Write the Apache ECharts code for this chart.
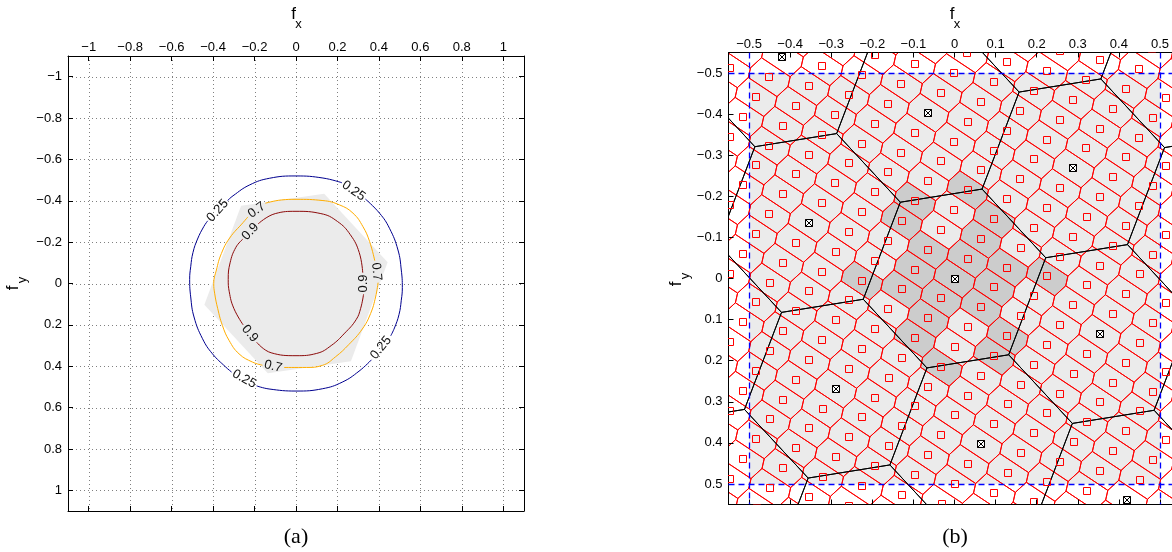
<!DOCTYPE html>
<html>
<head>
<meta charset="utf-8">
<script src="https://cdn.jsdelivr.net/npm/echarts@6/dist/echarts.min.js"></script>
<style>
html, body { margin: 0; padding: 0; background: #fff; }
#chart { width: 1172px; height: 552px; }
</style>
</head>
<body>
<div id="chart"></div>
<script>
// ---------- panel (a): frequency response contours ----------
const ticksA = [-1, -0.8, -0.6, -0.4, -0.2, 0, 0.2, 0.4, 0.6, 0.8, 1];

// pass region (hexagon) in (fx, fy)
const passRegion = [[-0.265, -0.376], [0.136, -0.434], [0.442, -0.103], [0.265, 0.376], [-0.136, 0.434], [-0.442, 0.103]];

// contour levels, traced as loops; null marks the gap left for an inline label
const contour025 = [
  [-0.33, -0.401], [-0.304, -0.424], [-0.223, -0.477], [-0.127, -0.509], [0, -0.52], [0.13, -0.51], [0.222, -0.487], null,
  [0.335, -0.408], [0.403, -0.34], [0.451, -0.267], [0.492, -0.162], [0.508, -0.065], [0.513, 0.02], [0.508, 0.081],
  [0.497, 0.15], [0.475, 0.215], [0.457, 0.253], null,
  [0.364, 0.369], [0.304, 0.424], [0.223, 0.477], [0.127, 0.509], [0, 0.52], [-0.13, 0.51], [-0.19, 0.495], null,
  [-0.311, 0.428], [-0.339, 0.404], [-0.403, 0.34], [-0.451, 0.267], [-0.492, 0.162], [-0.508, 0.065], [-0.513, -0.02],
  [-0.508, -0.081], [-0.497, -0.15], [-0.475, -0.215], [-0.445, -0.275], [-0.426, -0.303]
];
const contour07 = [
  [-0.148, -0.388], [-0.07, -0.404], [0, -0.407], [0.13, -0.401], [0.21, -0.38], [0.275, -0.34], [0.323, -0.275],
  [0.355, -0.203], [0.38, -0.11], null,
  [0.396, -0.004], [0.384, 0.065], [0.36, 0.145], [0.32, 0.22], [0.255, 0.295], [0.19, 0.355], [0.127, 0.396],
  [0.05, 0.406], [-0.058, 0.406], null,
  [-0.162, 0.395], [-0.21, 0.38], [-0.275, 0.34], [-0.323, 0.275], [-0.355, 0.203], [-0.378, 0.12], [-0.392, 0.05],
  [-0.397, 0], [-0.384, -0.065], [-0.36, -0.145], [-0.32, -0.22], [-0.255, -0.295], [-0.232, -0.322]
];
const contour09 = [
  [-0.183, -0.288], [-0.1, -0.338], [0, -0.349], [0.12, -0.338], [0.2, -0.3], [0.262, -0.236], [0.305, -0.15],
  [0.322, -0.052], null,
  [0.326, 0.052], [0.312, 0.12], [0.29, 0.175], [0.235, 0.24], [0.17, 0.3], [0.1, 0.338], [0, 0.349],
  [-0.12, 0.335], [-0.19, 0.284], null,
  [-0.255, 0.2], [-0.3, 0.12], [-0.322, 0.04], [-0.327, -0.02], [-0.318, -0.1], [-0.29, -0.175], [-0.257, -0.214]
];
const contourColors = ['#00008f', '#ffad00', '#8c0a0a'];

// inline contour labels: fx, fy, text, angle (deg)
const contourLabels = [
  [-0.378, -0.352, '0.25', 48], [0.278, -0.448, '0.25', -35], [0.41, 0.311, '0.25', 51], [-0.25, 0.462, '0.25', -29],
  [-0.19, -0.355, '0.7', 36], [0.388, -0.057, '0.7', -84], [-0.11, 0.401, '0.7', -14],
  [-0.22, -0.251, '0.9', 47], [0.324, 0.0, '0.9', 90], [-0.223, 0.242, '0.9', -50]
];

// ---------- panel (b): lattice tessellation ----------
const ticksB = [-0.5, -0.4, -0.3, -0.2, -0.1, 0, 0.1, 0.2, 0.3, 0.4, 0.5];
const fineBasis = [[0.0965, 0.0217], [-0.0321, 0.0483]];   // fine lattice generators
const coarseGen = [[4, 1], [3, 7]];                          // coarse generators in fine-lattice coordinates
const innerCells = [
  [-2, -3], [-2, -2], [-1, -4], [0, -3], [-1, -1], [-1, 0], [-1, 1], [0, -1], [0, 0], [0, -2], [1, -1],
  [1, 0], [1, 1], [0, 1], [0, 2], [0, 3], [2, 2], [2, 3], [-2, 1], [2, -1], [1, 4]
];
const baseBand = [-0.5, 0.5];

// ---------- geometry helpers ----------
const comb = (b, i, j) => [i * b[0][0] + j * b[1][0], i * b[0][1] + j * b[1][1]];

function clipHalf(poly, n, c) {
  const out = [];
  for (let k = 0; k < poly.length; k++) {
    const p = poly[k], q = poly[(k + 1) % poly.length];
    const dp = p[0] * n[0] + p[1] * n[1] - c, dq = q[0] * n[0] + q[1] * n[1] - c;
    if (dp <= 0) out.push(p);
    if ((dp < 0 && dq > 0) || (dp > 0 && dq < 0)) {
      const t = dp / (dp - dq);
      out.push([p[0] + t * (q[0] - p[0]), p[1] + t * (q[1] - p[1])]);
    }
  }
  return out;
}
function voronoiCell(basis) {
  let poly = [[-2, -2], [2, -2], [2, 2], [-2, 2]];
  for (let i = -2; i <= 2; i++) for (let j = -2; j <= 2; j++) {
    if (!i && !j) continue;
    const r = comb(basis, i, j);
    poly = clipHalf(poly, r, (r[0] * r[0] + r[1] * r[1]) / 2);
  }
  return poly;
}
function latticePoints(basis, n, lim) {
  const pts = [];
  for (let i = -n; i <= n; i++) for (let j = -n; j <= n; j++) {
    const p = comb(basis, i, j);
    if (Math.abs(p[0]) < lim && Math.abs(p[1]) < lim) pts.push(p);
  }
  return pts;
}

const coarseBasis = [comb(fineBasis, coarseGen[0][0], coarseGen[0][1]), comb(fineBasis, coarseGen[1][0], coarseGen[1][1])];
const fineCell = voronoiCell(fineBasis);
const coarseCell = voronoiCell(coarseBasis);
const finePts = latticePoints(fineBasis, 22, 0.72);
const coarsePts = latticePoints(coarseBasis, 5, 1.0);
const innerPts = innerCells.map(c => comb(fineBasis, c[0], c[1]));

// ---------- styling ----------
const FONT = "'Liberation Sans', Arial, Helvetica, sans-serif";
const fmt = v => (v < 0 ? '\u2212' : '') + String(Math.abs(v));
const px = v => Math.round(v) + 0.5;
const copy = s => Object.assign({}, s);

function axisDef(grid, pos, min, max, ticks, labels, inverse, isX, showLine) {
  return {
    gridIndex: grid, type: 'value', position: pos, min, max, inverse: !!inverse, z: 10,
    axisLine: { show: showLine !== false, onZero: false, lineStyle: { color: '#000', width: 1 } },
    axisTick: { show: showLine !== false, inside: true, length: 5, customValues: ticks, lineStyle: { color: '#000', width: 1 } },
    axisLabel: {
      show: labels, customValues: ticks, formatter: fmt, margin: isX ? 2 : 6,
      color: '#000', fontSize: 13, fontFamily: FONT
    },
    splitLine: { show: false }
  };
}

function cellSeries(points, cell, style, xi, yi, z) {
  return {
    type: 'custom', xAxisIndex: xi, yAxisIndex: yi, clip: true, silent: true, z,
    data: points,
    renderItem(params, api) {
      const cx = api.value(0), cy = api.value(1);
      return { type: 'polygon', shape: { points: cell.map(v => api.coord([cx + v[0], cy + v[1]])) }, style: copy(style) };
    }
  };
}
// full-span reference lines: one data item per value, drawn both vertically (x = v) and horizontally (y = v)
function fullLines(values, style, xi, yi, z) {
  return {
    type: 'custom', xAxisIndex: xi, yAxisIndex: yi, clip: true, silent: true, z,
    data: values.map(v => [v, v]),
    renderItem(params, api) {
      const cs = params.coordSys;
      const p = api.coord([api.value(0), api.value(1)]);
      return {
        type: 'group', children: [
          { type: 'line', shape: { x1: px(p[0]), y1: cs.y, x2: px(p[0]), y2: cs.y + cs.height }, style: copy(style) },
          { type: 'line', shape: { x1: cs.x, y1: px(p[1]), x2: cs.x + cs.width, y2: px(p[1]) }, style: copy(style) }
        ]
      };
    }
  };
}

const series = [];

// panel (a)
series.push(fullLines(ticksA, { stroke: '#808080', lineWidth: 1, lineDash: [1, 3] }, 0, 0, 1));
series.push({
  type: 'custom', xAxisIndex: 0, yAxisIndex: 0, clip: true, silent: true, z: 2,
  data: [[0, 0]],
  renderItem(params, api) {
    return { type: 'polygon', shape: { points: passRegion.map(p => api.coord(p)) }, style: { fill: '#ebebeb' } };
  }
});
[contour025, contour07, contour09].forEach((c, k) => {
  series.push({
    type: 'line', xAxisIndex: 0, yAxisIndex: 0, data: c, showSymbol: false, symbol: 'none',
    smooth: 0.45, connectNulls: false, silent: true, z: 3,
    lineStyle: { color: contourColors[k], width: 1 }
  });
});
series.push({
  type: 'custom', xAxisIndex: 0, yAxisIndex: 0, clip: true, silent: true, z: 4,
  data: contourLabels.map(l => [l[0], l[1]]),
  renderItem(params, api) {
    const l = contourLabels[params.dataIndex];
    const p = api.coord([l[0], l[1]]);
    return {
      type: 'text', x: p[0], y: p[1], rotation: l[3] * Math.PI / 180,
      style: { text: l[2], fill: '#111', font: '13px ' + FONT, align: 'center', verticalAlign: 'middle' }
    };
  }
});

// panel (b)
series.push({
  type: 'custom', xAxisIndex: 2, yAxisIndex: 2, clip: true, silent: true, z: 1,
  data: [[baseBand[0], baseBand[0]]],
  renderItem(params, api) {
    const a = api.coord([baseBand[0], baseBand[0]]), b = api.coord([baseBand[1], baseBand[1]]);
    return { type: 'rect', shape: { x: a[0], y: a[1], width: b[0] - a[0], height: b[1] - a[1] }, style: { fill: '#ebebeb' } };
  }
});
series.push(cellSeries(innerPts, fineCell, { fill: '#cccccc' }, 2, 2, 2));
series.push(cellSeries(finePts, fineCell, { fill: 'none', stroke: '#ff0000', lineWidth: 1 }, 2, 2, 3));
series.push(cellSeries(coarsePts, coarseCell, { fill: 'none', stroke: '#000000', lineWidth: 1 }, 2, 2, 4));
series.push(fullLines(baseBand, { stroke: 'rgb(0,0,255)', lineWidth: 1.3, lineDash: [6, 4] }, 2, 2, 20));
// fine lattice points: hollow red squares, pixel aligned
series.push({
  type: 'custom', xAxisIndex: 2, yAxisIndex: 2, clip: true, silent: true, z: 21,
  data: finePts,
  renderItem(params, api) {
    const p = api.coord([api.value(0), api.value(1)]);
    return {
      type: 'rect', shape: { x: Math.round(p[0]) - 3.5, y: Math.round(p[1]) - 3.5, width: 7, height: 7 },
      style: { fill: 'none', stroke: '#ff0000', lineWidth: 1 }
    };
  }
});
// coarse lattice points
series.push({
  type: 'custom', xAxisIndex: 2, yAxisIndex: 2, clip: true, silent: true, z: 22,
  data: coarsePts,
  renderItem(params, api) {
    const p = api.coord([api.value(0), api.value(1)]);
    const x = Math.round(p[0]) - 3.5, y = Math.round(p[1]) - 3.5, s = 7;
    return {
      type: 'group', children: [
        { type: 'rect', shape: { x, y, width: s, height: s }, style: { fill: '#fff', stroke: '#000', lineWidth: 1 } },
        { type: 'line', shape: { x1: x, y1: y, x2: x + s, y2: y + s }, style: { stroke: '#000', lineWidth: 1 } },
        { type: 'line', shape: { x1: x + s, y1: y, x2: x, y2: y + s }, style: { stroke: '#000', lineWidth: 1 } }
      ]
    };
  }
});

function axisTitle(x, y, main, sub, rotated) {
  const r = rotated ? Math.PI / 2 : 0;
  const base = { fill: '#000', align: 'center', verticalAlign: 'middle' };
  return [
    { type: 'text', x: x, y: y, rotation: r, style: Object.assign({ text: main, font: '17px ' + FONT }, base) },
    rotated
      ? { type: 'text', x: x + 9, y: y - 8, rotation: r, style: Object.assign({ text: sub, font: '13px ' + FONT }, base) }
      : { type: 'text', x: x + 5, y: y + 10, rotation: r, style: Object.assign({ text: sub, font: '13px ' + FONT }, base) }
  ];
}

// panel (b) runs past the right edge of the page: its x range is cut where the page ends
const xMaxB = 0.5292;

const chart = echarts.init(document.getElementById('chart'), null, { renderer: 'canvas' });
chart.setOption({
  animation: false,
  backgroundColor: '#ffffff',
  grid: [
    { left: 68, top: 56, width: 456, height: 455 },
    { left: 728.5, top: 52.5, width: 443.5, height: 452 }
  ],
  xAxis: [
    axisDef(0, 'top', -1.1, 1.1, ticksA, true, false, true),
    axisDef(0, 'bottom', -1.1, 1.1, ticksA, false, false, true),
    axisDef(1, 'top', -0.55, xMaxB, ticksB, true, false, true),
    axisDef(1, 'bottom', -0.55, xMaxB, ticksB, false, false, true)
  ],
  yAxis: [
    axisDef(0, 'left', -1.1, 1.1, ticksA, true, true, false),
    axisDef(0, 'right', -1.1, 1.1, ticksA, false, true, false),
    axisDef(1, 'left', -0.55, 0.55, ticksB, true, true, false),
    axisDef(1, 'right', -0.55, 0.55, ticksB, false, true, false, false)
  ],
  series,
  graphic: [
    ...axisTitle(293.5, 14.5, 'f', 'x', false),
    ...axisTitle(952, 14.5, 'f', 'x', false),
    ...axisTitle(13, 288, 'f', 'y', true),
    ...axisTitle(676, 284, 'f', 'y', true),
    { type: 'text', x: 296, y: 537, style: { text: '(a)', font: '22px "Liberation Serif", "DejaVu Serif", serif', fill: '#000', align: 'center', verticalAlign: 'middle' } },
    { type: 'text', x: 955, y: 537, style: { text: '(b)', font: '22px "Liberation Serif", "DejaVu Serif", serif', fill: '#000', align: 'center', verticalAlign: 'middle' } }
  ]
});
</script>
</body>
</html>
